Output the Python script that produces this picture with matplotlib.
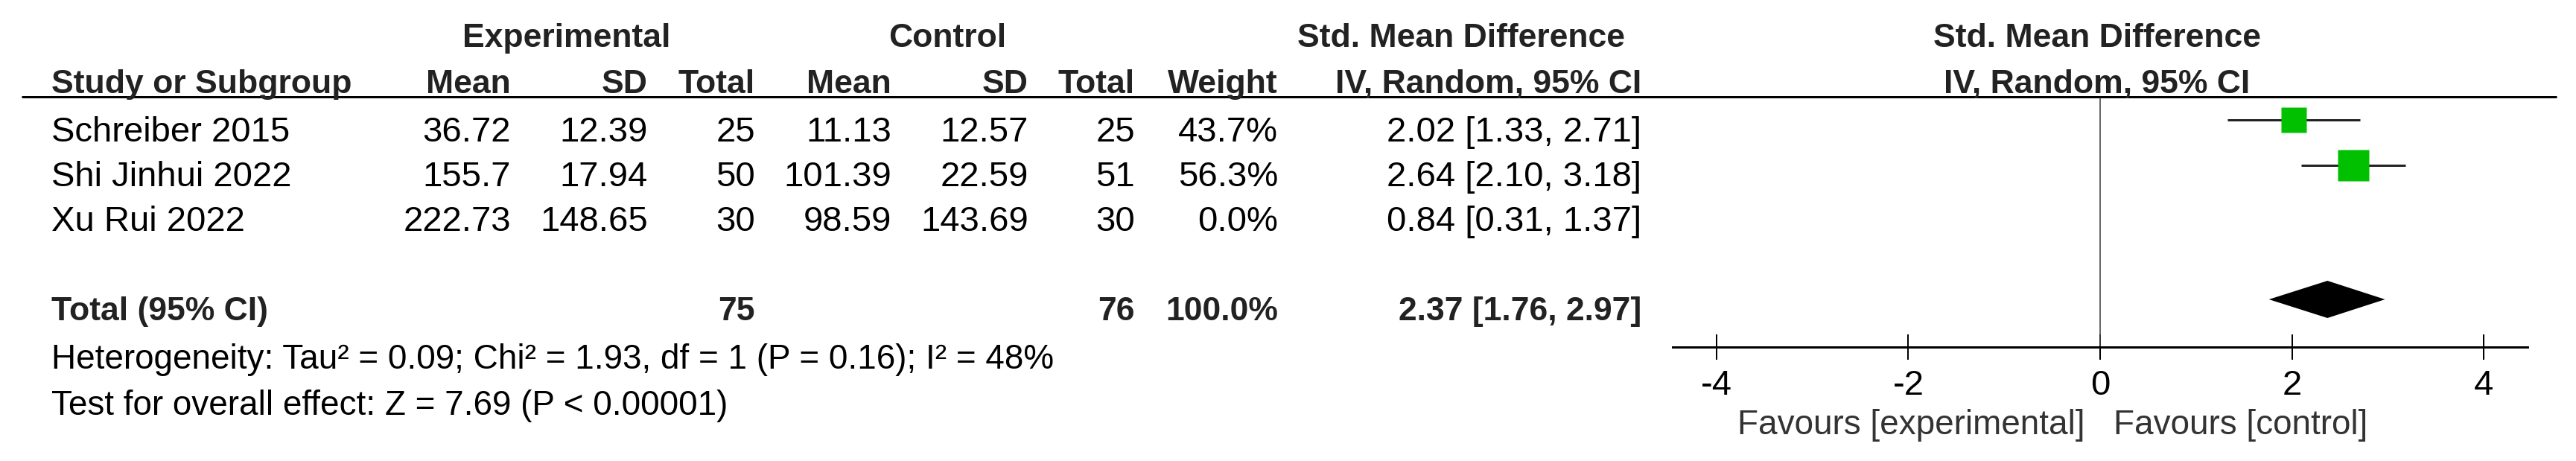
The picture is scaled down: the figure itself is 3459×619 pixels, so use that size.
import matplotlib
matplotlib.use("Agg")
import matplotlib.pyplot as plt

# ---------------- data ----------------
studies = ["Schreiber 2015", "Shi Jinhui 2022", "Xu Rui 2022"]
exp_mean = [36.72, 155.7, 222.73]
exp_sd = [12.39, 17.94, 148.65]
exp_n = [25, 50, 30]
ctl_mean = [11.13, 101.39, 98.59]
ctl_sd = [12.57, 22.59, 143.69]
ctl_n = [25, 51, 30]
weights = [43.7, 56.3, 0.0]
smd = [2.02, 2.64, 0.84]
ci_lo = [1.33, 2.10, 0.31]
ci_hi = [2.71, 3.18, 1.37]
total_exp = 75
total_ctl = 76
total_weight = 100.0
total_smd = 2.37
total_lo = 1.76
total_hi = 2.97
het_text = "Heterogeneity: Tau\u00b2 = 0.09; Chi\u00b2 = 1.93, df = 1 (P = 0.16); I\u00b2 = 48%"
overall_text = "Test for overall effect: Z = 7.69 (P < 0.00001)"
xticks = [-4, -2, 0, 2, 4]
fav_left = "Favours [experimental]"
fav_right = "Favours [control]"

# ---------------- layout ----------------
W, H = 3459, 619
PT = 0.72  # points per pixel at dpi 100
plt.rcParams['font.family'] = ['Liberation Sans', 'DejaVu Sans']

fig = plt.figure(figsize=(W / 100, H / 100), dpi=100)
ax = fig.add_axes([0, 0, 1, 1])
ax.set_xlim(0, W)
ax.set_ylim(H, 0)
ax.axis('off')

BODY = 34
HEAD = 32
hcol = '#222222'

# header row 1
ax.text(761, 63, "Experimental", ha='center', va='baseline', fontsize=HEAD, fontweight='bold', color=hcol)
ax.text(1272, 63, "Control", ha='center', va='baseline', fontsize=HEAD, fontweight='bold', color=hcol)
ax.text(1962, 63, "Std. Mean Difference", ha='center', va='baseline', fontsize=HEAD, fontweight='bold', color=hcol)
ax.text(2816, 63, "Std. Mean Difference", ha='center', va='baseline', fontsize=HEAD, fontweight='bold', color=hcol)

# header row 2
col_right = [686, 870, 1014, 1197, 1381, 1524, 1716, 2204]
hdrs = ["Mean", "SD", "Total", "Mean", "SD", "Total", "Weight", "IV, Random, 95% CI"]
ax.text(69, 125, "Study or Subgroup", ha='left', va='baseline', fontsize=HEAD, fontweight='bold', color=hcol)
for xr, h in zip(col_right, hdrs):
    ax.text(xr, 125, h, ha='right', va='baseline', fontsize=HEAD, fontweight='bold', color=hcol)
ax.text(2816, 125, "IV, Random, 95% CI", ha='center', va='baseline', fontsize=HEAD, fontweight='bold', color=hcol)

ax.plot([29, 3433], [130, 130], color='black', lw=3 * PT, solid_capstyle='butt')

# study rows
row_base = [190, 250, 310]
for i, name in enumerate(studies):
    yb = row_base[i]
    vals = [f"{exp_mean[i]:g}", f"{exp_sd[i]:g}", f"{exp_n[i]}",
            f"{ctl_mean[i]:g}", f"{ctl_sd[i]:g}", f"{ctl_n[i]}",
            f"{weights[i]:.1f}%", f"{smd[i]:.2f} [{ci_lo[i]:.2f}, {ci_hi[i]:.2f}]"]
    ax.text(69, yb, name, ha='left', va='baseline', fontsize=BODY, color='black')
    for xr, v in zip(col_right, vals):
        ax.text(xr, yb, v, ha='right', va='baseline', fontsize=BODY, color='black')

# total row
tb = 430
ax.text(69, tb, "Total (95% CI)", ha='left', va='baseline', fontsize=HEAD, fontweight='bold', color=hcol)
ax.text(col_right[2], tb, f"{total_exp}", ha='right', va='baseline', fontsize=HEAD, fontweight='bold', color=hcol)
ax.text(col_right[5], tb, f"{total_ctl}", ha='right', va='baseline', fontsize=HEAD, fontweight='bold', color=hcol)
ax.text(col_right[6], tb, f"{total_weight:.1f}%", ha='right', va='baseline', fontsize=HEAD, fontweight='bold', color=hcol)
ax.text(col_right[7], tb, f"{total_smd:.2f} [{total_lo:.2f}, {total_hi:.2f}]", ha='right', va='baseline',
        fontsize=HEAD, fontweight='bold', color=hcol)

ax.text(69, 495, het_text, ha='left', va='baseline', fontsize=33, color='black')
ax.text(69, 557, overall_text, ha='left', va='baseline', fontsize=33, color='black')

# ---------------- forest plot ----------------
x0_px = 2820.0
unit = 128.8
fax = fig.add_axes([0, 0, 1, 1])
fax.set_xlim(-x0_px / unit, (W - x0_px) / unit)
fax.set_ylim(H, 0)
fax.patch.set_visible(False)
for s in ['top', 'left', 'right']:
    fax.spines[s].set_visible(False)
axis_y = 466
fax.spines['bottom'].set_position(('data', axis_y))
fax.spines['bottom'].set_bounds(-4.46, 4.46)
fax.spines['bottom'].set_linewidth(3 * PT)
fax.set_yticks([])
fax.set_xticks(xticks)
fax.set_xticklabels([str(t) for t in xticks])
fax.tick_params(axis='x', direction='inout', length=34 * PT, width=2 * PT, pad=9,
                labelsize=BODY, colors='black')

fax.plot([0, 0], [132, axis_y], color='#444444', lw=1.6 * PT)

marker_y = [161, 222, 282]
for i in range(len(studies)):
    if weights[i] <= 0:
        continue
    y = marker_y[i]
    fax.plot([ci_lo[i], ci_hi[i]], [y, y], color='#222222', lw=3 * PT, solid_capstyle='butt')
    fax.plot([smd[i]], [y], marker='s', ms=weights[i] * 0.76 * PT, color='#00C000', mec='none')

dy = 402
dh = 25
fax.fill([total_lo, total_smd, total_hi, total_smd], [dy, dy - dh, dy, dy + dh], color='black', lw=0)

fax.text(-0.16, 583, fav_left, ha='right', va='baseline', fontsize=33, color='#333333')
fax.text(0.14, 583, fav_right, ha='left', va='baseline', fontsize=33, color='#333333')

fig.savefig("out.png", dpi=100)
